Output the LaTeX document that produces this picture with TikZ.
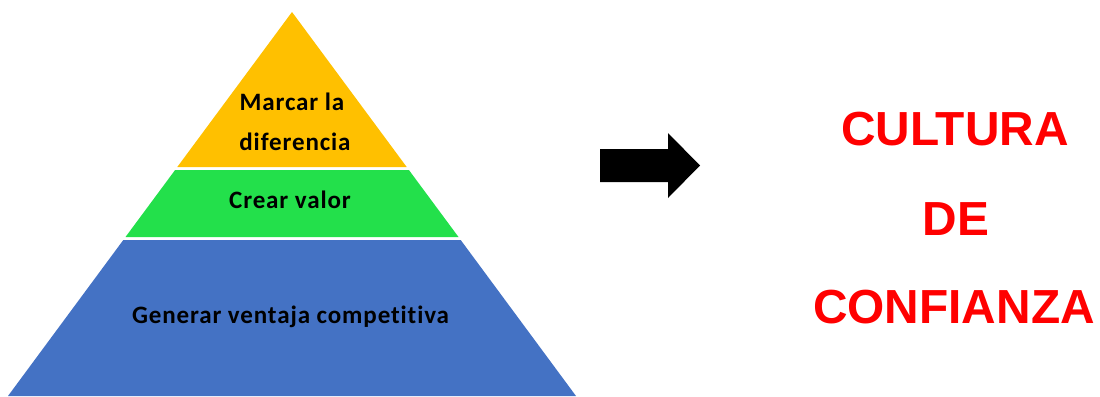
\documentclass[tikz,border=0pt]{standalone}
\usepackage{fontspec}
\usepackage{xcolor}
\usepackage{tikz}
\usetikzlibrary{positioning}
\newfontfamily\labelfont[Ligatures=NoCommon,LetterSpace=3.5]{Carlito}
\newfontfamily\titlefont{Liberation Sans}
\definecolor{layeryellow}{HTML}{FFC000}
\definecolor{layergreen}{HTML}{23E04B}
\definecolor{layerblue}{HTML}{4472C4}
\definecolor{titlered}{HTML}{FF0000}
\tikzstyle{layer} = [draw=none]
\tikzstyle{layertext} = [anchor=base, inner sep=0pt, font=\labelfont\bfseries\fontsize{17.8}{28.4}\selectfont]
\tikzstyle{title} = [anchor=base, inner sep=0pt, text=titlered, font=\titlefont\bfseries\fontsize{34}{40}\selectfont]

\begin{document}
\begin{tikzpicture}[x=0.025cm,y=-0.025cm]
    \useasboundingbox (0,0) rectangle (1100,396);
    % Draw layers
    \fill[layer, layeryellow] (292,12) -- (406.7,167) -- (177.3,167) -- cycle;
    \fill[layer, layergreen] (175.1,170) -- (408.9,170) -- (458.5,237) -- (125.5,237) -- cycle;
    \fill[layer, layerblue] (123.3,240) -- (460.7,240) -- (576,396) -- (8,396) -- cycle;
    % Place nodes
    \node[layertext] (top1) at (292,110) {Marcar la};
    \node[layertext] (top2) at (295,150) {diferencia};
    \node[layertext] (mid) at (290,208) {Crear valor};
    \node[layertext] (base) at (290.5,323) {Generar ventaja competitiva};
    \node[title] (cultura) at (955,145) {CULTURA};
    \node[title] (de) at (956,235) {DE};
    \node[title] (confianza) at (954,323) {CONFIANZA};
    % Draw arrow
    \fill[black] (600,149) -- (668,149) -- (668,133) -- (700,165.5) -- (668,198) -- (668,182) -- (600,182) -- cycle;
\end{tikzpicture}
\end{document}
